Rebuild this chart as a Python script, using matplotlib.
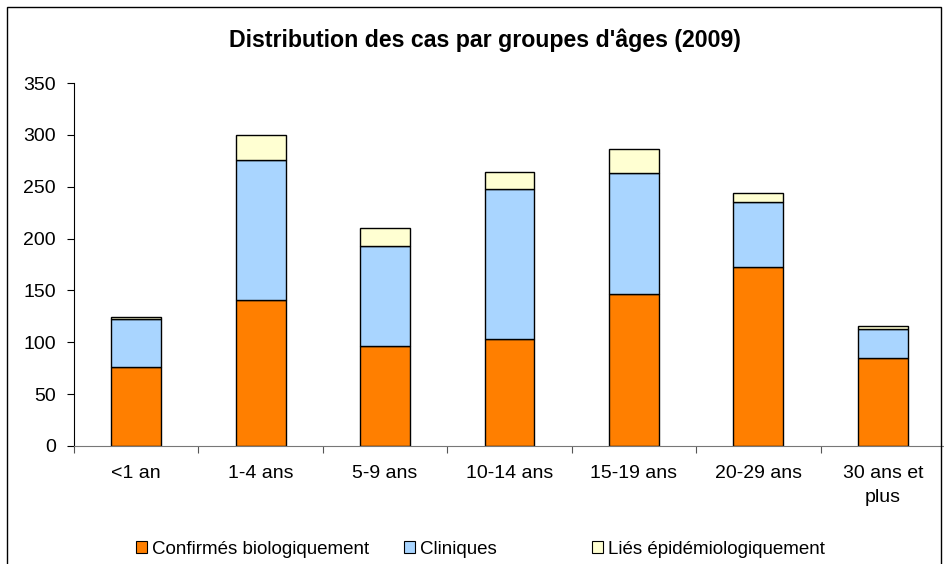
import matplotlib
matplotlib.use("Agg")
import matplotlib.pyplot as plt
from matplotlib.patches import Rectangle, Patch
import numpy as np

# Données
groupes = ["<1 an", "1-4 ans", "5-9 ans", "10-14 ans", "15-19 ans", "20-29 ans", "30 ans et\nplus"]
confirmes = [76, 141, 96, 103, 147, 173, 85]
cliniques = [46, 135, 97, 145, 116, 62, 28]
lies = [2, 24, 17, 16, 23, 9, 3]

series = ["Confirmés biologiquement", "Cliniques", "Liés épidémiologiquement"]
couleurs = ["#FF7F00", "#A9D5FF", "#FFFFD2"]

plt.rcParams['font.family'] = ['Liberation Sans', 'DejaVu Sans']

fig = plt.figure(figsize=(9.44, 5.64), dpi=100)
W, H = 944, 564
ax = fig.add_axes([74 / W, 1 - 446 / H, (945 - 74) / W, (446 - 83) / H])

x = np.arange(len(groupes))
bas = np.zeros(len(groupes))
for vals, col in zip([confirmes, cliniques, lies], couleurs):
    ax.bar(x, vals, width=0.4, bottom=bas, color=col, edgecolor="black", linewidth=1)
    bas += np.array(vals)

ax.set_xlim(-0.5, len(groupes) - 0.5)
ax.set_ylim(0, 350)
ax.set_yticks(range(0, 351, 50))
ax.set_xticks(np.arange(len(groupes) + 1) - 0.5)
ax.set_xticklabels([])
ax.set_xticks(x, minor=True)
ax.set_xticklabels(groupes, minor=True, fontsize=14, linespacing=1.5)
ax.tick_params(axis="x", which="minor", length=0, pad=14)
ax.tick_params(axis="x", which="major", length=5, direction="out", color="#555555")
ax.tick_params(axis="y", length=5, direction="out", labelsize=14, pad=8)

for s in ["top", "right"]:
    ax.spines[s].set_visible(False)
ax.spines["bottom"].set_color("#777777")
ax.spines["left"].set_color("black")

fig.text(485 / W, 1 - 40 / H, "Distribution des cas par groupes d'âges (2009)",
         ha="center", va="center", fontsize=16.7, fontweight="bold")

# cadre du graphique
fig.patches.append(Rectangle((7 / W, -0.05), (941 - 7) / W, 1.05 - 7 / H,
                             transform=fig.transFigure, fill=False,
                             edgecolor="black", linewidth=1))

# légende : trois entrées placées séparément comme dans l'original
positions = [136, 404, 592]
for lab, col, px in zip(series, couleurs, positions):
    h = Patch(facecolor=col, edgecolor="black", linewidth=0.8)
    fig.legend([h], [lab], loc="center left", bbox_to_anchor=(px / W, 1 - 549 / H),
               frameon=False, fontsize=13.5, handlelength=0.6, handleheight=0.6,
               handletextpad=0.25, borderpad=0, borderaxespad=0)

fig.savefig("out.png", dpi=100)
